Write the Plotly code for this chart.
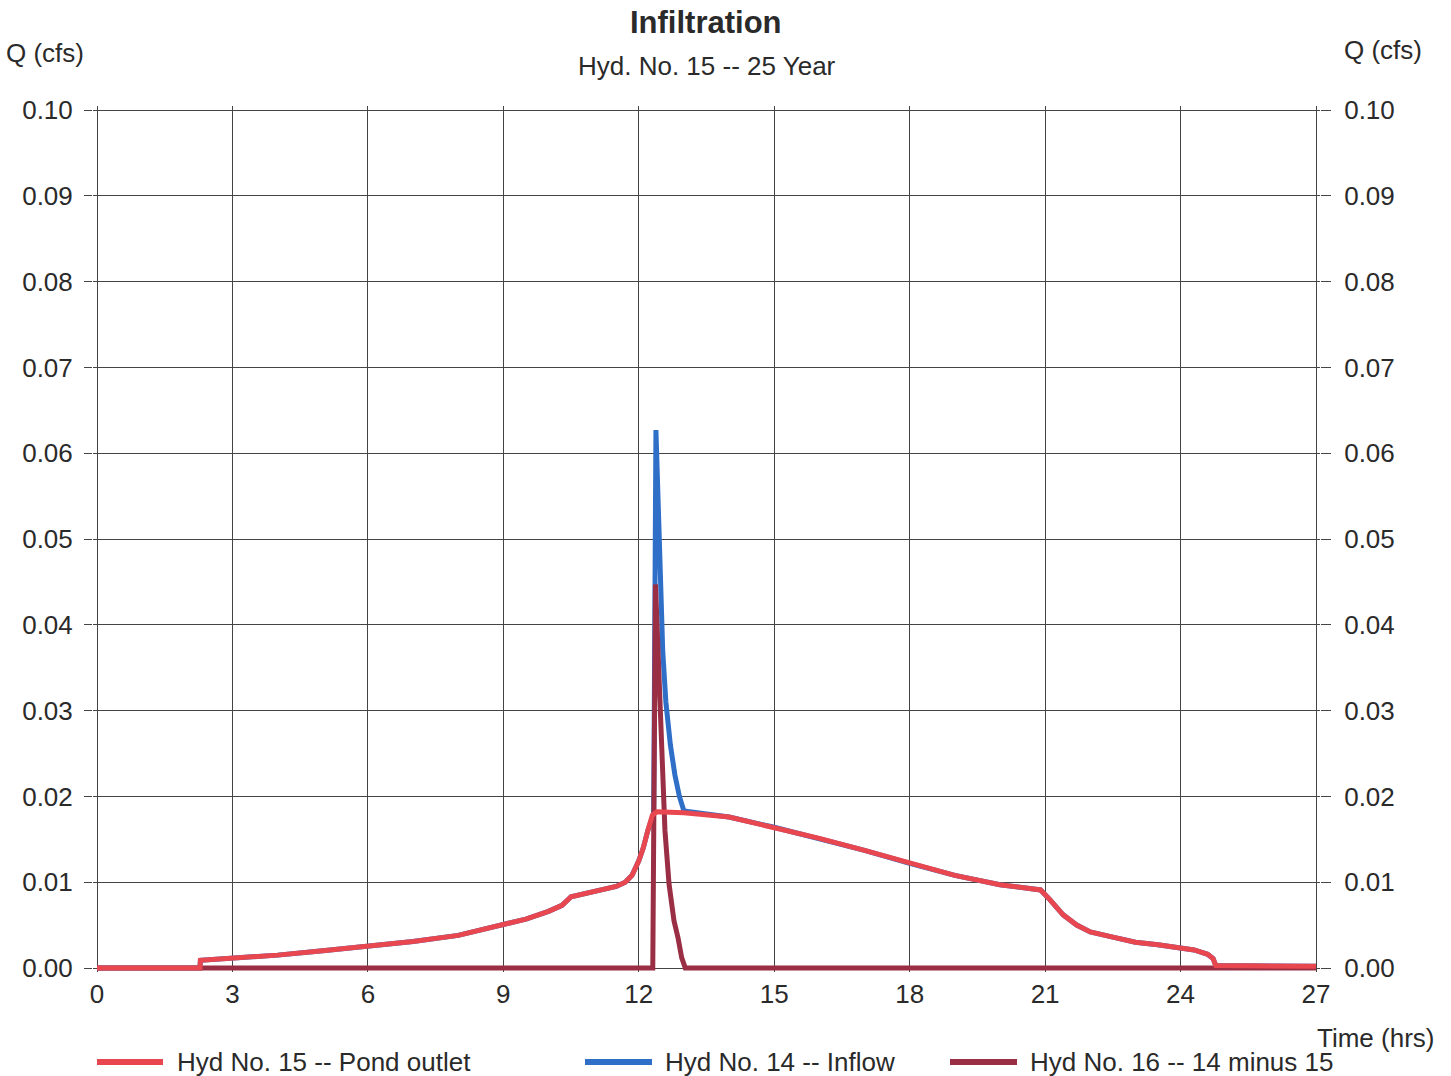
import plotly.graph_objects as go

# ---- data ----
# Hyd No. 15 -- Pond outlet
outlet_t = [0, 2.28, 2.29, 3, 4, 5, 6, 7, 8, 9, 9.5, 10, 10.3, 10.5, 11, 11.3, 11.5, 11.7,
            11.85, 12.0, 12.1, 12.2, 12.3, 12.4, 12.5, 13, 14, 15, 16, 17, 18, 19, 20, 20.9,
            21.1, 21.4, 21.7, 22, 22.5, 23, 23.5, 24, 24.3, 24.6, 24.72, 24.78, 27]
outlet_q = [0, 0, 0.0009, 0.0011, 0.0015, 0.0020, 0.0025, 0.0031, 0.0038, 0.0050, 0.0057,
            0.0066, 0.0073, 0.0083, 0.0089, 0.0092, 0.0095, 0.0100, 0.0108, 0.0125, 0.0140,
            0.0160, 0.0178, 0.0182, 0.0182, 0.0181, 0.0176, 0.0164, 0.0151, 0.0137, 0.0122,
            0.0108, 0.0097, 0.0091, 0.0080, 0.0062, 0.0050, 0.0042, 0.0036, 0.0030, 0.0027,
            0.0024, 0.0021, 0.0016, 0.0011, 0.0003, 0.0002]

# Hyd No. 14 -- Inflow
inflow_t = [0, 2.28, 2.29, 3, 4, 5, 6, 7, 8, 9, 9.5, 10, 10.3, 10.5, 11, 11.3, 11.5, 11.7,
            11.85, 12.0, 12.1, 12.2, 12.3, 12.33, 12.38, 12.42, 12.47, 12.53, 12.6, 12.7,
            12.8, 12.9, 13.0, 14, 15, 16, 17, 18, 19, 20, 20.9, 21.1, 21.4, 21.7, 22, 22.5,
            23, 23.5, 24, 24.3, 24.6, 24.72, 24.78, 27]
inflow_q = [0, 0, 0.0009, 0.0011, 0.0015, 0.0020, 0.0025, 0.0031, 0.0038, 0.0050, 0.0057,
            0.0066, 0.0073, 0.0083, 0.0089, 0.0092, 0.0095, 0.0100, 0.0108, 0.0125, 0.0140,
            0.0160, 0.0178, 0.0180, 0.0627, 0.0550, 0.0450, 0.0370, 0.0310, 0.0260, 0.0225,
            0.0200, 0.0183, 0.0176, 0.0164, 0.0151, 0.0137, 0.0122, 0.0108, 0.0097, 0.0091,
            0.0080, 0.0062, 0.0050, 0.0042, 0.0036, 0.0030, 0.0027, 0.0024, 0.0021, 0.0016,
            0.0011, 0.0003, 0.0002]

# Hyd No. 16 -- 14 minus 15
diff_t = [0, 12.31, 12.37, 12.45, 12.51, 12.58, 12.67, 12.78, 12.87, 12.95, 13.03, 27]
diff_q = [0, 0, 0.0447, 0.0340, 0.0250, 0.0160, 0.0098, 0.0055, 0.0035, 0.0012, 0, 0]

x_ticks = [0, 3, 6, 9, 12, 15, 18, 21, 24, 27]
y_ticks = [0.00, 0.01, 0.02, 0.03, 0.04, 0.05, 0.06, 0.07, 0.08, 0.09, 0.10]

series_names = ["Hyd No. 15 -- Pond outlet", "Hyd No. 14 -- Inflow", "Hyd No. 16 -- 14 minus 15"]

RED = "#E8474F"
BLUE = "#2F6FC8"
DARK = "#9A2E44"
TXT = "#2a2a2a"
GRID = "#444444"
FONT = "Liberation Sans, Arial, sans-serif"

W, H = 1451, 1076
L, R, T, B = 93, 131, 106, 104
PW, PH = W - L - R, H - T - B
XPAD = 4 / 45.148
YPAD = 4 / 8580.0


def px(ref_x):
    return (ref_x - L) / PW


def py(ref_y):
    return (H - B - ref_y) / PH


fig = go.Figure()
fig.add_trace(go.Scatter(x=inflow_t, y=inflow_q, mode="lines", name=series_names[1],
                         line=dict(color=BLUE, width=5), showlegend=False))
fig.add_trace(go.Scatter(x=diff_t, y=diff_q, mode="lines", name=series_names[2],
                         line=dict(color=DARK, width=5), showlegend=False))
fig.add_trace(go.Scatter(x=outlet_t, y=outlet_q, mode="lines", name=series_names[0],
                         line=dict(color=RED, width=5), showlegend=False))
# invisible trace to show the right-hand axis
fig.add_trace(go.Scatter(x=[0], y=[0], yaxis="y2", mode="markers", marker=dict(opacity=0),
                         showlegend=False, hoverinfo="skip"))

fig.update_layout(
    width=W, height=H,
    margin=dict(l=L, r=R, t=T, b=B, autoexpand=False),
    paper_bgcolor="white", plot_bgcolor="white",
    font=dict(family=FONT, size=26, color=TXT),
    showlegend=False,
    xaxis=dict(range=[-XPAD, 27 + XPAD], tickvals=x_ticks, ticktext=[str(v) for v in x_ticks],
               showgrid=True, gridcolor=GRID, gridwidth=1, zeroline=False, automargin=False,
               showline=False, ticks="", ticklabelstandoff=4,
               tickfont=dict(size=26, color=TXT)),
    yaxis=dict(range=[-YPAD, 0.1 + YPAD], tickvals=y_ticks,
               ticktext=[f"{v:.2f}" for v in y_ticks], automargin=False,
               showgrid=True, gridcolor=GRID, gridwidth=1, zeroline=False,
               showline=False, ticks="outside", ticklen=8, tickcolor=GRID,
               ticklabelstandoff=6, tickfont=dict(size=26, color=TXT)),
    yaxis2=dict(range=[-YPAD, 0.1 + YPAD], tickvals=y_ticks, automargin=False,
                ticktext=[f"{v:.2f}" for v in y_ticks], overlaying="y", side="right",
                showgrid=False, zeroline=False, showline=False, ticks="outside",
                ticklen=10, tickcolor=GRID, ticklabelstandoff=8,
                tickfont=dict(size=26, color=TXT)),
)

ann = [
    dict(text="<b>Infiltration</b>", x=px(706), y=py(22), size=31),
    dict(text="Hyd. No. 15 -- 25 Year", x=px(707), y=py(66), size=26),
    dict(text="Q (cfs)", x=px(45), y=py(53), size=26),
    dict(text="Q (cfs)", x=px(1383), y=py(50), size=26),
    dict(text="Time (hrs)", x=px(1375), y=py(1038), size=26),
]
for a in ann:
    fig.add_annotation(text=a["text"], x=a["x"], y=a["y"], xref="paper", yref="paper",
                       xanchor="center", yanchor="middle", showarrow=False,
                       font=dict(family=FONT, size=a["size"], color=TXT))

# legend (line sample + label), drawn below the plot like the reference
legend_items = [(series_names[0], RED, 97, 163, 175),
                (series_names[1], BLUE, 585, 652, 663),
                (series_names[2], DARK, 950, 1017, 1028)]
for name, col, x0, x1, xt in legend_items:
    fig.add_shape(type="line", xref="paper", yref="paper", x0=px(x0), x1=px(x1),
                  y0=py(1062), y1=py(1062), line=dict(color=col, width=6))
    fig.add_annotation(text=name, x=px(xt), y=py(1062), xref="paper", yref="paper",
                       xanchor="left", yanchor="middle", showarrow=False,
                       font=dict(family=FONT, size=26, color=TXT))

fig.write_html("out.html",
               config={"displayModeBar": False},
               post_script="document.body.style.margin='0px';document.body.style.overflow='hidden';")
